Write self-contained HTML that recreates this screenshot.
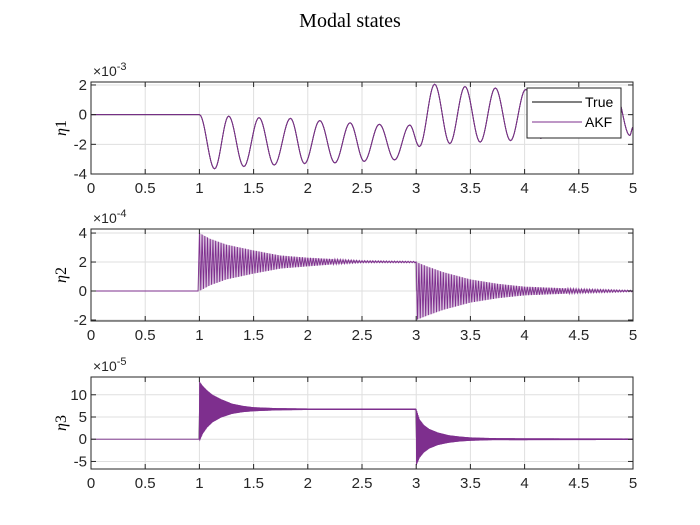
<!DOCTYPE html>
<html><head><meta charset="utf-8"><style>
body{margin:0;background:#fff;}
svg{display:block;font-family:"Liberation Sans",sans-serif;}
</style></head><body>
<svg id="fig" width="700" height="525" viewBox="0 0 700 525">
<rect width="700" height="525" fill="#fff"/>
<text x="350" y="27" text-anchor="middle" font-family="Liberation Serif, serif" font-size="20" fill="#000">Modal states</text>
</svg>
<script>
// ---- data: eta1 extrema (time, value x1e-3)
const eta1T = [0,1,1.14,1.27,1.41,1.55,1.69,1.84,1.97,2.11,2.25,2.39,2.52,2.66,2.80,2.94,3.03,3.17,3.31,3.45,3.59,3.73,3.87,4.01,4.15,4.29,4.42,4.56,4.70,4.84,4.97,5.0];
const eta1V = [0,0,-3.65,-0.1,-3.5,-0.2,-3.4,-0.25,-3.3,-0.4,-3.25,-0.55,-3.15,-0.65,-3.05,-0.7,-2.15,2.05,-1.95,1.9,-1.85,1.8,-1.75,1.7,-1.6,1.6,-1.5,1.5,-1.45,1.45,-1.4,-0.85];
// eta2 envelope (x1e-4)
const eta2T = [0,0.999,1.0,1.1,1.25,1.5,1.75,2.0,2.25,2.5,2.999,3.0,3.1,3.25,3.5,3.75,4.0,4.5,5.0];
const eta2Up = [0,0,4.0,3.6,3.2,2.8,2.45,2.3,2.2,2.1,2.05,2.0,1.7,1.3,0.8,0.5,0.3,0.15,0.05];
const eta2Lo = [0,0,0.0,0.4,0.8,1.2,1.55,1.7,1.85,1.95,1.95,-2.0,-1.7,-1.3,-0.8,-0.5,-0.3,-0.15,-0.05];
// eta3 envelope (x1e-5)
const eta3T = [0,0.999,1.0,1.03,1.07,1.12,1.2,1.3,1.4,1.5,1.7,2.0,2.999,3.0,3.03,3.07,3.12,3.2,3.3,3.4,3.5,3.7,4.0,5.0];
const eta3Up = [0,0,13,12,11,10,9.0,8.0,7.5,7.2,7.0,6.9,6.9,6.8,4.5,3.2,2.3,1.5,0.9,0.6,0.4,0.25,0.2,0.15];
const eta3Lo = [0,0,-0.5,1.2,2.6,3.8,4.9,5.7,6.1,6.3,6.5,6.6,6.6,-6.0,-4.2,-3.0,-2.1,-1.3,-0.8,-0.5,-0.35,-0.2,-0.2,-0.15];
const xTicks = [0,0.5,1,1.5,2,2.5,3,3.5,4,4.5,5];
const yTicks1 = [-4,-2,0,2];
const yTicks2 = [-2,0,2,4];
const yTicks3 = [-5,0,5,10];

const NS="http://www.w3.org/2000/svg";
const svg=document.getElementById('fig');
const PURPLE="#7e2f8e";
function mk(tag,attrs,parent){const e=document.createElementNS(NS,tag);for(const k in attrs)e.setAttribute(k,attrs[k]);(parent||svg).appendChild(e);return e;}
const X0=91,X1=633;
function sx(t){return X0+(t/5)*(X1-X0);}
function interp(T,V,t){for(let i=0;i<T.length-1;i++){if(t>=T[i]&&t<=T[i+1]){const f=(t-T[i])/((T[i+1]-T[i])||1);return V[i]+f*(V[i+1]-V[i]);}}return V[V.length-1];}

function axes(name,top,bot,ymin,ymax,yt){
  const g=mk('g',{});  
  const sy=v=>bot-(v-ymin)/(ymax-ymin)*(bot-top);
  mk('rect',{x:X0,y:top,width:X1-X0,height:bot-top,fill:'#fff'},g);
  xTicks.forEach(t=>{const l=mk('line',{x1:sx(t),x2:sx(t),y1:top,y2:bot,stroke:'#dfdfdf','stroke-width':1},g);});
  yt.forEach(v=>{const l=mk('line',{x1:X0,x2:X1,y1:sy(v),y2:sy(v),stroke:'#dfdfdf','stroke-width':1},g);});
  return {g,sy};
}
function frame(g,top,bot,ymin,ymax,sy,yt,expo,label,ly){
  mk('rect',{x:X0,y:top,width:X1-X0,height:bot-top,fill:'none',stroke:'#262626','stroke-width':1},g);
  xTicks.forEach(t=>{
    mk('line',{x1:sx(t),x2:sx(t),y1:bot,y2:bot-5,stroke:'#262626'},g);
    mk('line',{x1:sx(t),x2:sx(t),y1:top,y2:top+5,stroke:'#262626'},g);
    const tx=mk('text',{x:sx(t),y:bot+19,'text-anchor':'middle','font-size':'15',fill:'#262626'},g);tx.textContent=String(t);
    
  });
  yt.forEach(v=>{
    mk('line',{x1:X0,x2:X0+5,y1:sy(v),y2:sy(v),stroke:'#262626'},g);
    mk('line',{x1:X1,x2:X1-5,y1:sy(v),y2:sy(v),stroke:'#262626'},g);
    const tx=mk('text',{x:X0-4,y:sy(v)+5,'text-anchor':'end','font-size':'15',fill:'#262626'},g);tx.textContent=String(v);
    
  });
  const ex=mk('text',{x:X0+2,y:top-6,'font-size':'14',fill:'#262626'},g);
  
  ex.innerHTML='×10<tspan dy="-6" font-size="11">'+expo+'</tspan>';
  const yl=mk('text',{transform:'translate('+ly+','+((top+bot)/2)+') rotate(-90)','text-anchor':'middle','font-family':'Liberation Serif, serif','font-size':'16',fill:'#000'},g);
  
  yl.innerHTML='<tspan font-style="italic">η</tspan>'+label;
}

// Plot 1
(function(){
  const top=82,bot=174,ymin=-4,ymax=2.2;
  const {g,sy}=axes('eta1-axes',top,bot,ymin,ymax,yTicks1);
  function curve(){let d='';for(let i=0;i<eta1T.length-1;i++){const t0=eta1T[i],t1=eta1T[i+1],v0=eta1V[i],v1=eta1V[i+1];
    for(let k=0;k<=12;k++){const f=k/12;const t=t0+(t1-t0)*f;const s=(1-Math.cos(Math.PI*f))/2;const v=v0+(v1-v0)*s;d+=(d?'L':'M')+sx(t).toFixed(2)+','+sy(v).toFixed(2);}}return d;}
  const dd=curve();
  const p1=mk('path',{d:dd,fill:'none',stroke:'#000','stroke-width':1},g);
  const p2=mk('path',{d:dd,fill:'none',stroke:PURPLE,'stroke-width':1},g);
  frame(g,top,bot,ymin,ymax,sy,yTicks1,'-3','1',66);
  const lg=mk('g',{},svg);
  mk('rect',{x:527,y:88,width:94,height:50,fill:'#fff',stroke:'#262626','stroke-width':1},lg);
  const e1=mk('g',{},lg);
  mk('line',{x1:532,x2:582,y1:102,y2:102,stroke:'#000'},e1);
  const t1=mk('text',{x:585,y:107,'font-size':'14',fill:'#000'},e1);t1.textContent='True';
  const e2=mk('g',{},lg);
  mk('line',{x1:532,x2:582,y1:122,y2:122,stroke:PURPLE},e2);
  const t2=mk('text',{x:585,y:127,'font-size':'14',fill:'#000'},e2);t2.textContent='AKF';
})();

function envPlot(name,top,bot,ymin,ymax,yt,T,UP,LO,period,expo,label,trueName,akfName,fillOp,trueOp){
  const {g,sy}=axes(name,top,bot,ymin,ymax,yt);
  let dt='';for(let t=0;t<=5.0001;t+=0.01){const m=(interp(T,UP,t)+interp(T,LO,t))/2;dt+=(dt?'L':'M')+sx(t).toFixed(2)+','+sy(m).toFixed(2);}
  const p1=mk('path',{d:dt,fill:'none',stroke:'#000','stroke-width':0.8,'stroke-opacity':trueOp},g);
  let d='';let hi=true;
  for(let t=0;t<=5.0001;t+=period/2){const v=hi?interp(T,UP,t):interp(T,LO,t);d+=(d?'L':'M')+sx(t).toFixed(2)+','+sy(v).toFixed(2);hi=!hi;}
  let band='';T.forEach((t,i)=>{band+=(i?'L':'M')+sx(t).toFixed(2)+','+sy(UP[i]).toFixed(2);});
  for(let i=T.length-1;i>=0;i--)band+='L'+sx(T[i]).toFixed(2)+','+sy(LO[i]).toFixed(2);band+='Z';
  const b=mk('path',{d:band,fill:PURPLE,'fill-opacity':fillOp,stroke:'none'},g);
  const p2=mk('path',{d:d,fill:'none',stroke:PURPLE,'stroke-width':0.9},g);
  frame(g,top,bot,ymin,ymax,sy,yt,expo,label,66);
}
envPlot('eta2-axes',229,321,-2.07,4.28,yTicks2,eta2T,eta2Up,eta2Lo,0.025,'-4','2','eta2-true-line','eta2-akf-line',0.3,0.25);
envPlot('eta3-axes',377,469,-6.7,14,yTicks3,eta3T,eta3Up,eta3Lo,0.006,'-5','3','eta3-true-line','eta3-akf-line',0.9,0.3);
</script>
</body></html>
